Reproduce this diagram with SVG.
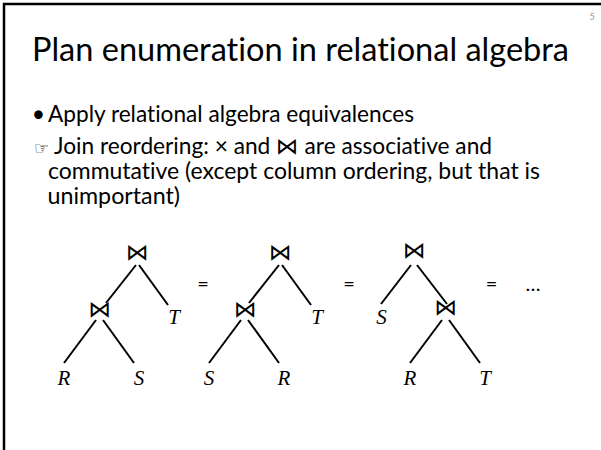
<svg xmlns="http://www.w3.org/2000/svg" width="601" height="450" viewBox="0 0 601 450">
<style>
text{font-variant-ligatures:none;font-feature-settings:"liga" 0}
.body{font-family:Lato,"Open Sans","DejaVu Sans",sans-serif;font-size:23px;fill:#000}
.title{font-family:Lato,"Open Sans",sans-serif;font-size:33px;fill:#000}
.op{font-family:"DejaVu Sans",sans-serif;font-size:23px;fill:#000;text-anchor:middle}
.leaf{font-family:"Liberation Serif",serif;font-style:italic;font-size:21px;fill:#000;text-anchor:middle}
.eq{font-family:Lato,"Open Sans",sans-serif;font-size:20px;fill:#000;text-anchor:middle}
.edge{stroke:#000;stroke-width:2;fill:none}
</style>
<rect x="0" y="0" width="601" height="450" fill="#fff"/>
<path d="M4,450 V4 H601" fill="none" stroke="#000" stroke-width="2.5"/>
<text x="592" y="20" font-family="Lato,sans-serif" font-size="9" fill="#999" text-anchor="middle">5</text>
<g id="title"><text class="title" x="32" y="61" textLength="537" lengthAdjust="spacingAndGlyphs">Plan enumeration in relational algebra</text></g>
<g id="bullets">
<text class="body" x="38.5" y="122" text-anchor="middle" font-size="18">•</text>
<text class="body" x="48" y="122" textLength="366" lengthAdjust="spacingAndGlyphs">Apply relational algebra equivalences</text>
<text x="34" y="154" font-family="DejaVu Sans,sans-serif" font-size="17" fill="#000">☞</text>
<text class="body" x="54" y="154" textLength="438" lengthAdjust="spacingAndGlyphs">Join reordering: × and ⋈ are associative and</text>
<text class="body" x="48" y="179" textLength="492" lengthAdjust="spacingAndGlyphs">commutative (except column ordering, but that is</text>
<text class="body" x="47.5" y="204" textLength="132.5" lengthAdjust="spacingAndGlyphs">unimportant)</text>
</g>
<g id="connectors">
<line class="edge" x1="136" y1="265" x2="106" y2="303"/>
<line class="edge" x1="139" y1="265" x2="168" y2="305"/>
<line class="edge" x1="96" y1="320" x2="64" y2="363"/>
<line class="edge" x1="103" y1="320" x2="134" y2="363"/>
<line class="edge" x1="279" y1="265" x2="249" y2="303"/>
<line class="edge" x1="282" y1="265" x2="311" y2="305"/>
<line class="edge" x1="241" y1="320" x2="209" y2="363"/>
<line class="edge" x1="248" y1="320" x2="279" y2="363"/>
<line class="edge" x1="411" y1="265" x2="381" y2="304"/>
<line class="edge" x1="417" y1="265" x2="447" y2="304"/>
<line class="edge" x1="442" y1="320" x2="410" y2="363"/>
<line class="edge" x1="449" y1="320" x2="480" y2="363"/>
</g>
<g id="tree1">
<text class="op" x="137.5" y="259.5">⋈</text>
<text class="op" x="100" y="316.5">⋈</text>
<text class="leaf" x="174" y="324">T</text>
<text class="leaf" x="64" y="385">R</text>
<text class="leaf" x="139" y="385">S</text>
</g>
<text class="eq" x="203" y="291">=</text>
<g id="tree2">
<text class="op" x="280.5" y="259.5">⋈</text>
<text class="op" x="245.5" y="316.5">⋈</text>
<text class="leaf" x="317" y="324">T</text>
<text class="leaf" x="209" y="385">S</text>
<text class="leaf" x="284" y="385">R</text>
</g>
<text class="eq" x="349" y="291">=</text>
<g id="tree3">
<text class="op" x="414.5" y="257.5">⋈</text>
<text class="op" x="446" y="315">⋈</text>
<text class="leaf" x="381.5" y="324">S</text>
<text class="leaf" x="410" y="385">R</text>
<text class="leaf" x="485" y="385">T</text>
</g>
<text class="eq" x="491.5" y="291">=</text>
<text class="eq" x="533" y="291">…</text>
</svg>
